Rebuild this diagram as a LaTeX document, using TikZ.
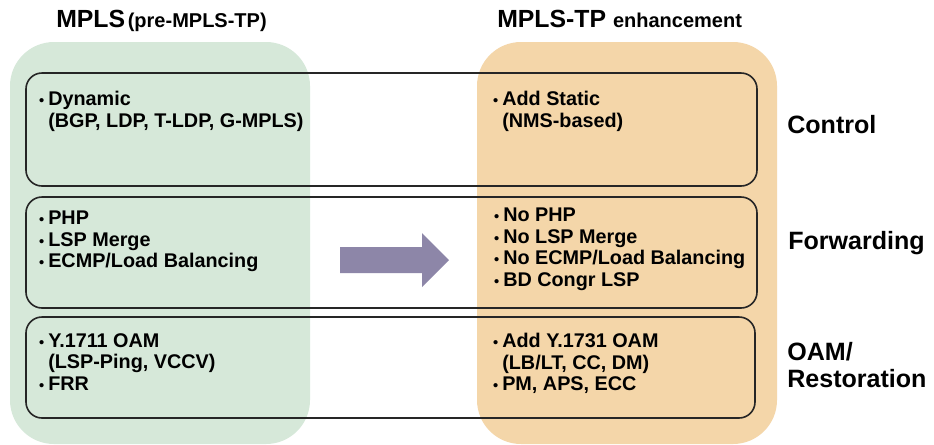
\documentclass[tikz,border=0pt]{standalone}
\usepackage{fontspec}
\setmainfont{Liberation Sans}
\usetikzlibrary{positioning}
\definecolor{oldgreen}{HTML}{D6E8D9}
\definecolor{tporange}{HTML}{F4D6A9}
\definecolor{arrowgray}{HTML}{8D86A8}
\tikzset{
x=0.75pt, y=-0.75pt, % one unit is one pixel of the slide
panel/.style={rounded corners=33pt}, % the two coloured columns
row/.style={draw=black!85, line width=1.2pt, rounded corners=12pt}, % the three layer frames
item/.style={anchor=north west, inner sep=0pt, align=left, font=\bfseries\fontsize{14.85}{16.1}\selectfont}, % bullet text
side/.style={inner sep=0pt, font=\bfseries\fontsize{18.8}{20.3}\selectfont}, % layer names
head/.style={anchor=base west, inner sep=0pt, font=\bfseries\fontsize{18.6}{20}\selectfont},
}
\newcommand{\bul}{\llap{\fontsize{11}{11}\selectfont•\hspace{3pt}}}
\newcommand{\subhead}{\fontsize{15}{16}\selectfont}

\begin{document}
\begin{tikzpicture}
    \useasboundingbox[fill=white] (0,0) rectangle (934,444);
    % columns
    \fill[panel, oldgreen] (10,42) rectangle (310,444);
    \fill[panel, tporange] (477,42) rectangle (777,444);
    % headings
    \node[head] (mpls) at (56,27) {MPLS\hspace{2pt}{\subhead(pre-MPLS-TP)}};
    \node[head] (mplstp) at (497,27) {MPLS-TP {\subhead enhancement}};
    % layer frames
    \draw[row] (26,73) rectangle (757,186);
    \draw[row] (26,197) rectangle (757,308);
    \draw[row] (26,317) rectangle (755,418);
    % control
    \node[item] (dyn) at (48,91) {\bul Dynamic\\(BGP, LDP, T-LDP, G-MPLS)};
    \node[item] (stat) at (502,91) {\bul Add Static\\(NMS-based)};
    \node[side, anchor=base west] (ctrl) at (787,133) {Control};
    % forwarding
    \node[item] (php) at (48,211) {\bul PHP\\\bul LSP Merge\\\bul ECMP/Load Balancing};
    \node[item] (nophp) at (503,208) {\bul No PHP\\\bul No LSP Merge\\\bul No ECMP/Load Balancing\\\bul BD Congr LSP};
    \node[side, anchor=base west] (fwd) at (788,249) {Forwarding};
    % oam
    \node[item] (yold) at (48,333) {\bul Y.1711 OAM\\(LSP-Ping, VCCV)\\\bul FRR};
    \node[item] (ynew) at (502,333) {\bul Add Y.1731 OAM\\(LB/LT, CC, DM)\\\bul PM, APS, ECC};
    \node[side, anchor=north west, align=left] (oam) at (787,342) {OAM/\\Restoration};
    % the big arrow
    \fill[arrowgray] (340,247) -- (422,247) -- (422,233) -- (449,260)
        -- (422,287) -- (422,273) -- (340,273) -- cycle;
\end{tikzpicture}
\end{document}
